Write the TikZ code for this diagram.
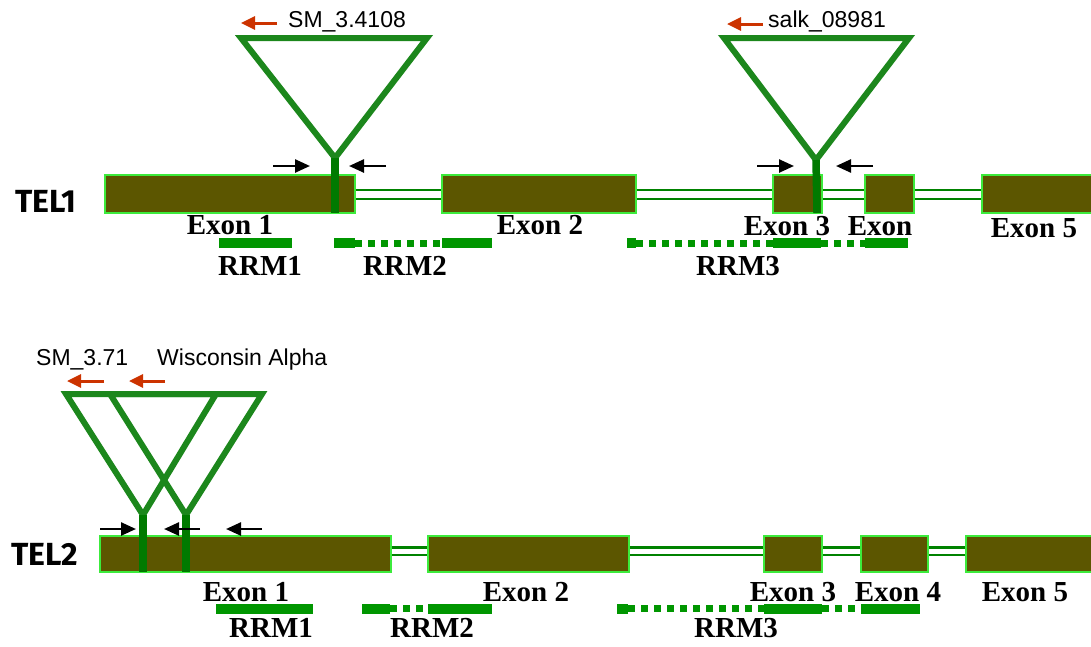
\documentclass[tikz,border=0pt]{standalone}
\usepackage{fontspec}
\setmainfont{Liberation Serif}
\setsansfont{Liberation Sans}
\newfontfamily\genefont{Fira Sans}
\usetikzlibrary{arrows.meta}

\definecolor{exonfill}{RGB}{92,86,0}
\definecolor{exonedge}{RGB}{60,235,60}
\definecolor{introncol}{RGB}{0,130,0}
\definecolor{tricol}{RGB}{28,135,28}
\definecolor{barcol}{RGB}{0,122,0}
\definecolor{rrmcol}{RGB}{0,150,0}
\definecolor{primercol}{RGB}{204,51,0}

\tikzset{
  exon/.style={draw=exonedge, line width=1.5pt, fill=exonfill, inner sep=0pt},
  intron/.style={draw=introncol, line width=2.6pt},
  tdna/.style={draw=tricol, line width=6pt, line join=miter},
  tbar/.style={draw=barcol, line width=7.5pt},
  primer/.style={draw=black, line width=2.5pt, -{Triangle[length=15pt,width=13pt]}},
  redprimer/.style={draw=primercol, line width=3pt, -{Triangle[length=14pt,width=13pt]}},
  rrm/.style={draw=rrmcol, line width=10pt},
  rrmdot/.style={draw=rrmcol, line width=7pt, dash pattern=on 7pt off 6pt},
  exlabel/.style={font=\fontsize{29}{32}\selectfont\bfseries, inner sep=0pt, anchor=base},
  linelabel/.style={font=\fontsize{23}{26}\selectfont\sffamily, inner sep=0pt, anchor=base west},
  genelabel/.style={font=\fontsize{32}{34}\selectfont\genefont\bfseries, inner sep=0pt, anchor=base},
}

\begin{document}
\begin{tikzpicture}[x=1pt, y=-1pt]
\useasboundingbox (0,0) rectangle (1091,646);

% ---------------- TEL1 ----------------
\node[genelabel] (tel1) at (46,212) {TEL1};

\node[exon, minimum width=250pt, minimum height=38pt] (a1) at (230,194) {};
\node[exon, minimum width=194pt, minimum height=38pt] (a2) at (539,194) {};
\node[exon, minimum width=49pt,  minimum height=38pt] (a3) at (797.5,194) {};
\node[exon, minimum width=49pt,  minimum height=38pt] (a4) at (889.5,194) {};
\node[exon, minimum width=118pt, minimum height=38pt] (a5) at (1041,194) {};

\foreach \l/\r in {a1/a2, a2/a3, a3/a4, a4/a5}{
  \draw[intron] ([yshift=4pt]\l.east) -- ([yshift=4pt]\r.west);
  \draw[intron] ([yshift=-5pt]\l.east) -- ([yshift=-5pt]\r.west);
}

% insertion in exon 1
\coordinate (ya) at (335,158);
\draw[tdna] (241,38) -- (427,38) -- (ya) -- cycle;
\draw[tbar] (ya) -- (335,213);
% insertion in exon 3
\coordinate (yb) at (816,160);
\draw[tdna] (724,38) -- (909,38) -- (yb) -- cycle;
\draw[tbar] (yb) -- (817,213);

% primers
\coordinate (p1a) at (273,166); \coordinate (p1b) at (310,166);
\coordinate (p2a) at (386,166); \coordinate (p2b) at (349,166);
\coordinate (p3a) at (757,166); \coordinate (p3b) at (794,166);
\coordinate (p4a) at (873,166); \coordinate (p4b) at (836,166);
\draw[primer] (p1a) -- (p1b);
\draw[primer] (p2a) -- (p2b);
\draw[primer] (p3a) -- (p3b);
\draw[primer] (p4a) -- (p4b);

\coordinate (r1a) at (277,23); \coordinate (r1b) at (241,23);
\coordinate (r2a) at (763,24); \coordinate (r2b) at (727,24);
\draw[redprimer] (r1a) -- (r1b);
\draw[redprimer] (r2a) -- (r2b);
\node[linelabel] (l1) at (288,27) {SM\_3.4108};
\node[linelabel] (l2) at (768,27) {salk\_08981};

% exon labels
\node[exlabel] (x11) at (230,234) {Exon 1};
\node[exlabel] (x12) at (540,234) {Exon 2};
\node[exlabel] (x13) at (787,235) {Exon 3};
\node[exlabel] (x14) at (880,235) {Exon};
\node[exlabel] (x15) at (1034,237) {Exon 5};

% RRM domains
\draw[rrm] (219,243) -- (292,243);
\draw[rrm] (334,243) -- (355,243);
\draw[rrmdot] (355,243) -- (442,243);
\draw[rrm] (442,243) -- (492,243);
\draw[rrm] (627,243) -- (636,243);
\draw[rrmdot] (636,243) -- (773,243);
\draw[rrm] (773,243) -- (821,243);
\draw[rrmdot] (821,243) -- (865,243);
\draw[rrm] (865,243) -- (908,243);

\node[exlabel] (m11) at (260,275) {RRM1};
\node[exlabel] (m12) at (405,275) {RRM2};
\node[exlabel] (m13) at (738,275) {RRM3};

% ---------------- TEL2 ----------------
\node[genelabel] (tel2) at (45,565) {TEL2};

\node[exon, minimum width=291pt, minimum height=36pt] (b1) at (245.5,554) {};
\node[exon, minimum width=201pt, minimum height=36pt] (b2) at (528.5,554) {};
\node[exon, minimum width=58pt,  minimum height=36pt] (b3) at (793,554) {};
\node[exon, minimum width=67pt,  minimum height=36pt] (b4) at (894.5,554) {};
\node[exon, minimum width=129pt, minimum height=36pt] (b5) at (1030.5,554) {};

\foreach \l/\r in {b1/b2, b2/b3, b3/b4, b4/b5}{
  \draw[intron] ([yshift=6.5pt]\l.east) -- ([yshift=6.5pt]\r.west);
  \draw[intron] ([yshift=-1pt]\l.east) -- ([yshift=-1pt]\r.west);
}

% two insertions in exon 1
\coordinate (yc) at (143,515);
\coordinate (yd) at (186,515);
\draw[tdna] (66,394) -- (216,394) -- (yc) -- cycle;
\draw[tdna] (110,394) -- (262,394) -- (yd) -- cycle;
\draw[tbar] (yc) -- (143,572);
\draw[tbar] (yd) -- (186,572);

\coordinate (q1a) at (100,529); \coordinate (q1b) at (136,529);
\coordinate (q2a) at (200,529); \coordinate (q2b) at (164,529);
\coordinate (q3a) at (262,529); \coordinate (q3b) at (226,529);
\draw[primer] (q1a) -- (q1b);
\draw[primer] (q2a) -- (q2b);
\draw[primer] (q3a) -- (q3b);

\coordinate (s1a) at (104,381); \coordinate (s1b) at (67,381);
\coordinate (s2a) at (165,381); \coordinate (s2b) at (129,381);
\draw[redprimer] (s1a) -- (s1b);
\draw[redprimer] (s2a) -- (s2b);
\node[linelabel] (l3) at (36,365) {SM\_3.71};
\node[linelabel] (l4) at (157,365) {Wisconsin Alpha};

\node[exlabel] (x21) at (246,601) {Exon 1};
\node[exlabel] (x22) at (526,601) {Exon 2};
\node[exlabel] (x23) at (793,601) {Exon 3};
\node[exlabel] (x24) at (898,601) {Exon 4};
\node[exlabel] (x25) at (1025,601) {Exon 5};

\draw[rrm] (216,608.5) -- (313,608.5);
\draw[rrm] (362,608.5) -- (390,608.5);
\draw[rrmdot] (390,608.5) -- (428,608.5);
\draw[rrm] (428,608.5) -- (492,608.5);
\draw[rrm] (617,608.5) -- (628,608.5);
\draw[rrmdot] (628,608.5) -- (764,608.5);
\draw[rrm] (764,608.5) -- (822,608.5);
\draw[rrmdot] (822,608.5) -- (861,608.5);
\draw[rrm] (861,608.5) -- (920,608.5);

\node[exlabel] (m21) at (271,637) {RRM1};
\node[exlabel] (m22) at (432,637) {RRM2};
\node[exlabel] (m23) at (736,637) {RRM3};

\end{tikzpicture}
\end{document}
